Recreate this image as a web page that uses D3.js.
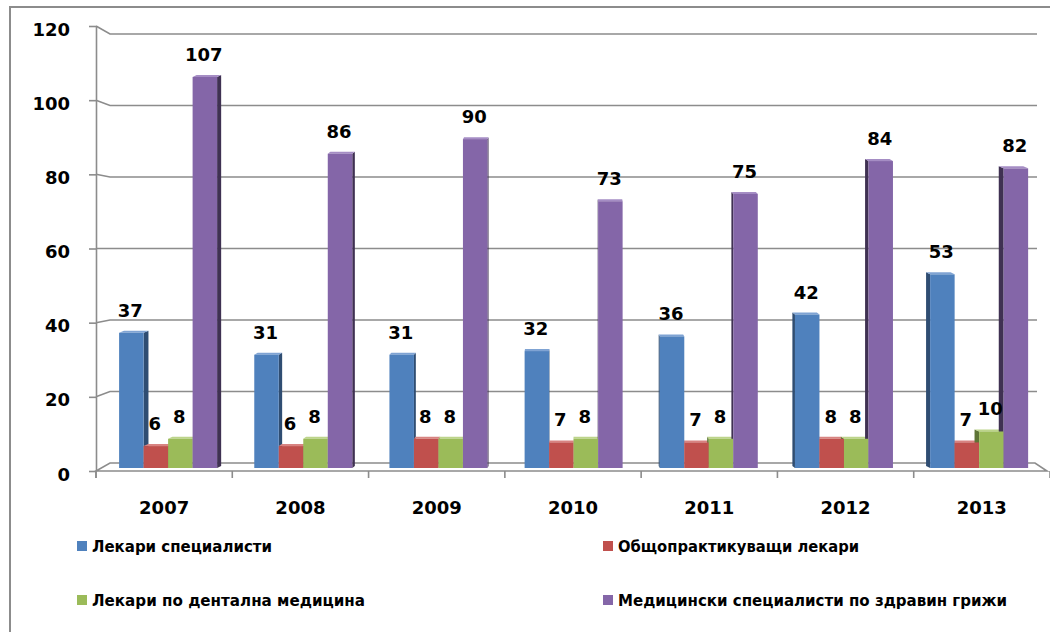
<!DOCTYPE html>
<html><head><meta charset="utf-8">
<script src="https://cdn.jsdelivr.net/npm/d3@7"></script>
<style>
body{margin:0;background:#fff}
svg{display:block}
text{font-family:"DejaVu Sans",sans-serif;font-weight:bold;fill:#000}
</style>
</head><body>
<svg id="c" width="1050" height="632"></svg>
<script>
const years = ["2007","2008","2009","2010","2011","2012","2013"];
const seriesNames = ["Лекари специалисти","Общопрактикуващи лекари","Лекари по дентална медицина","Медицински специалисти по здравин грижи"];
const specialists = [37,31,31,32,36,42,53];
const generalPractitioners = [6,6,8,7,7,8,7];
const dental = [8,8,8,8,8,8,10];
const medicalCare = [107,86,90,73,75,84,82];
const yTicks = [0,20,40,60,80,100,120];

const seriesValues = [specialists, generalPractitioners, dental, medicalCare];
const frontColors = ["#4F81BD","#C0504D","#9BBB59","#8466A8"];
const sideColors = ["#2F4D72","#7A302E","#5E7536","#3F3152"];
const topColors = ["#7FA3D3","#D88381","#BCD48A","#A58DC4"];

const svg = d3.select("#c");
const grey = "#8c8c8c";

// chart border
svg.append("rect").attr("x",10).attr("y",7).attr("width",1100).attr("height",700)
  .attr("fill","#fff").attr("stroke",grey).attr("stroke-width",2);

const yFront = d3.scaleLinear().domain([0,120]).range([471,26]);
const yBack = d3.scaleLinear().domain([0,120]).range([463,34]);
const yBar = d3.scaleLinear().domain([0,120]).range([468,29.5]);

const xFront = d3.scaleBand().domain(years).range([96,1050]);
const xBar = d3.scaleBand().domain(years).range([100.5,1046.7]);
const xInner = d3.scaleBand().domain(d3.range(seriesValues.length)).range([18.6,116.6]);
const xBackL = 110, xBackR = 1037;
const cx = 573.5;

// gridlines on back wall
const gGrid = svg.append("g").attr("fill","none").attr("stroke",grey).attr("stroke-width",1.6);
yTicks.filter(t => t > 0).forEach(t => {
  gGrid.append("path").attr("d",
    `M96,${yFront(t)}L${xBackL},${yBack(t)}L${xBackR},${yBack(t)}`);
});
// floor
gGrid.append("path").attr("d",
  `M96,${yFront(0)}L1047,${yFront(0)}L1035,${yBack(0)}L${xBackL},${yBack(0)}Z`);

// y axis
const yAxis = d3.axisLeft(yFront).tickValues(yTicks).tickSize(7).tickSizeOuter(0).tickPadding(19);
const gy = svg.append("g").attr("transform","translate(96,0)").call(yAxis);
gy.select(".domain").attr("stroke",grey).attr("stroke-width",1.6);
gy.selectAll(".tick line").attr("stroke",grey).attr("stroke-width",1.6);
gy.selectAll(".tick text").attr("font-size",18).attr("font-family","DejaVu Sans").attr("font-weight","bold").attr("fill","#000").attr("dy","0.5em");
svg.append("line").attr("x1",96).attr("x2",96).attr("y1",yFront(0)).attr("y2",478)
  .attr("stroke",grey).attr("stroke-width",1.6);

// x axis ticks and labels
const xTickPos = years.map(y => xFront(y)).concat([xFront.range()[1]]);
svg.append("g").selectAll("line").data(xTickPos).join("line")
  .attr("x1",d=>d).attr("x2",d=>d).attr("y1",yFront(0)).attr("y2",478)
  .attr("stroke",grey).attr("stroke-width",1.6);
svg.append("g").selectAll("text").data(years).join("text")
  .attr("x",d=>xFront(d)+xFront.bandwidth()/2).attr("y",513.5)
  .attr("text-anchor","middle").attr("font-size",18).text(d=>d);

// bars
const bars = [];
years.forEach((yr,i) => {
  seriesValues.forEach((vals,s) => {
    const x0 = xBar(yr) + xInner(s);
    const w = xInner.bandwidth();
    bars.push({s, v: vals[i], x0, x1: x0 + w, yt: yBar(vals[i]), yb: yBar(0),
      side: (cx - (x0 + w/2)) * 0.011});
  });
});
const rise = 2;
const gSide = svg.append("g");
bars.forEach(b => {
  const xe = b.side >= 0 ? b.x1 : b.x0;
  gSide.append("path").attr("fill",sideColors[b.s]).attr("d",
    `M${xe},${b.yt}L${xe+b.side},${b.yt-rise}L${xe+b.side},${b.yb-rise}L${xe},${b.yb}Z`);
  gSide.append("path").attr("fill",topColors[b.s]).attr("d",
    `M${b.x0},${b.yt}L${b.x1},${b.yt}L${b.x1+b.side},${b.yt-rise}L${b.x0+b.side},${b.yt-rise}Z`);
});
svg.append("g").selectAll("rect").data(bars).join("rect")
  .attr("x",d=>d.x0).attr("y",d=>d.yt).attr("width",d=>d.x1-d.x0).attr("height",d=>d.yb-d.yt)
  .attr("fill",d=>frontColors[d.s]);

// value labels
svg.append("g").selectAll("text").data(bars).join("text")
  .attr("x",d=>(d.x0+d.x1)/2-1).attr("y",d=>d.yt-16)
  .attr("text-anchor","middle").attr("font-size",18).text(d=>d.v);

// legend
const legendPos = [[77,546,180],[603,546,241],[77,600,273],[603,600,389]];
const gLeg = svg.append("g");
seriesNames.forEach((name,s) => {
  const [lx,ly,tl] = legendPos[s];
  gLeg.append("rect").attr("x",lx).attr("y",ly-5).attr("width",10).attr("height",10).attr("fill",frontColors[s]);
  gLeg.append("text").attr("x",lx+15).attr("y",ly+5.5).attr("font-size",16)
    .attr("textLength",tl).attr("lengthAdjust","spacingAndGlyphs").text(name);
});
</script>
</body></html>
